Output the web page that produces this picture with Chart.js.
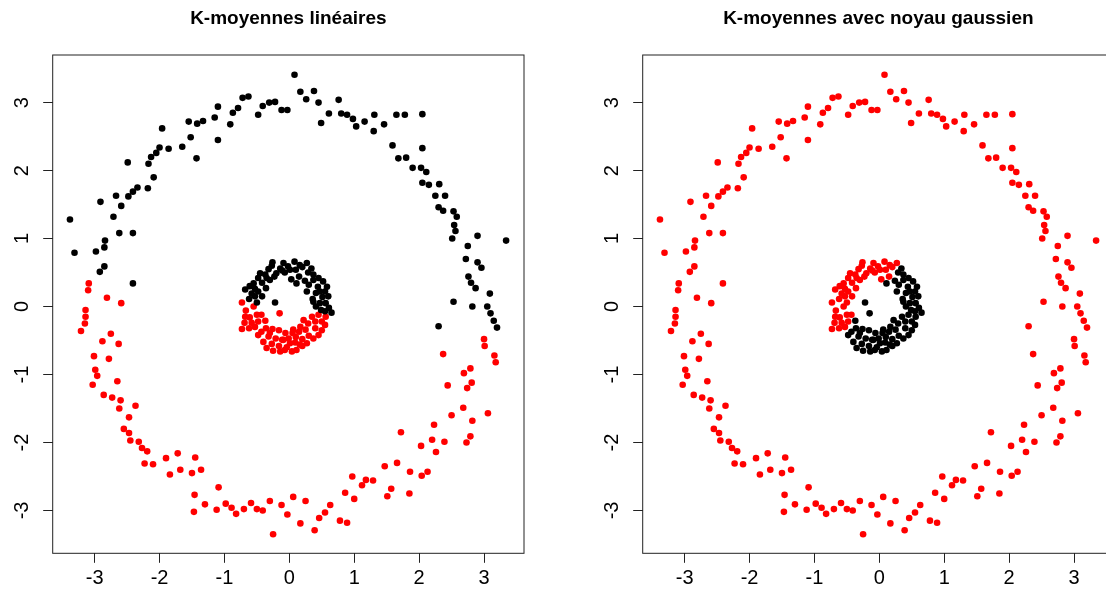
<!DOCTYPE html>
<html>
<head>
<meta charset="utf-8">
<script src="https://cdn.jsdelivr.net/npm/chart.js@4.4.1/dist/chart.umd.min.js"></script>
<style>
  html, body { margin: 0; padding: 0; background: #fff; overflow: hidden; width: 1106px; height: 589px; }
  .panel { position: absolute; top: 0; width: 590px; height: 589px; }
</style>
</head>
<body>
<div class="panel" style="left:0"><canvas id="linChart" width="590" height="589"></canvas></div>
<div class="panel" style="left:590px"><canvas id="kerChart" width="590" height="589"></canvas></div>
<script>
// axis ticks and limits
const tickValues = [-3, -2, -1, 0, 1, 2, 3];
const xRange = [-3.646, 3.616];
const yRange = [-3.63, 3.70];

// outer ring, upper part (black in the linear k-means)
const outerTop = [
  [-3.38,1.28],[-3.31,0.79],[-2.91,1.54],[-2.98,0.81],[-2.85,0.87],[-2.84,0.97],[-2.85,0.59],[-2.92,0.51],
  [-2.41,0.34],[-2.71,1.32],[-2.62,1.08],[-2.41,1.08],[-2.59,1.48],[-2.67,1.63],[-2.48,1.62],[-2.41,1.69],
  [-2.34,1.75],[-2.49,2.12],[-2.18,1.74],[-2.09,1.90],[-2.17,2.10],[-2.13,2.20],[-2.05,2.26],[-2.00,2.34],
  [-1.96,2.62],[-1.86,2.32],[-1.65,2.35],[-1.52,2.49],[-1.43,2.18],[-1.55,2.72],[-1.42,2.69],[-1.33,2.73],
  [-1.15,2.78],[-1.10,2.94],[-1.10,2.45],[-0.91,2.68],[-0.87,2.85],[-0.79,2.92],[-0.72,3.07],[-0.63,3.09],
  [-0.48,2.82],[-0.41,2.95],[-0.31,3.00],[-0.22,3.01],[-0.12,2.89],[-0.03,2.89],
  [0.08,3.41],[0.17,3.16],[0.26,3.05],[0.38,3.17],[0.45,3.00],[0.49,2.70],[0.61,2.84],[0.76,3.04],
  [0.80,2.84],[0.89,2.82],[0.98,2.76],[1.03,2.65],[1.16,2.72],[1.31,2.82],[1.30,2.58],[1.46,2.68],
  [1.65,2.82],[1.78,2.82],[2.05,2.83],[1.59,2.37],[2.05,2.33],[1.68,2.18],[1.80,2.19],[1.90,2.04],
  [2.03,2.04],[2.11,1.98],[2.05,1.82],[2.15,1.79],[2.31,1.80],[2.25,1.63],[2.40,1.63],[2.30,1.46],
  [2.37,1.41],[2.53,1.40],[2.58,1.32],[2.54,1.20],[2.56,1.11],[2.51,1.00],[2.90,1.04],[3.34,0.97],
  [2.75,0.89],[2.72,0.70],[2.90,0.65],[2.96,0.57],[2.76,0.44],[2.80,0.35],[2.87,0.27],[3.09,0.19],
  [2.53,0.07],[2.82,0.00],[3.05,0.00],[3.10,-0.10],[3.15,-0.21],[3.20,-0.31],[2.30,-0.29]
];

// outer ring, lower part (red in the linear k-means)
const outerBottom = [
  [-3.09,0.34],[-3.10,0.24],[-2.81,0.13],[-2.59,0.05],
  [-3.14,-0.05],[-3.14,-0.15],[-3.15,-0.25],[-3.21,-0.36],[-2.75,-0.40],[-2.88,-0.51],[-2.63,-0.55],[-3.01,-0.73],
  [-2.78,-0.77],[-2.99,-0.93],[-2.96,-1.02],[-3.03,-1.15],[-2.65,-1.10],[-2.86,-1.30],[-2.73,-1.34],[-2.60,-1.38],
  [-2.62,-1.50],[-2.37,-1.46],[-2.47,-1.63],[-2.55,-1.80],[-2.47,-1.86],[-2.45,-1.97],[-2.32,-1.99],[-2.27,-2.08],
  [-2.19,-2.13],[-2.23,-2.31],[-2.10,-2.32],[-1.90,-2.23],[-1.72,-2.16],[-1.84,-2.47],[-1.68,-2.40],[-1.45,-2.22],
  [-1.50,-2.45],[-1.36,-2.40],[-1.09,-2.66],[-1.46,-2.77],[-1.47,-3.02],[-1.30,-2.91],[-1.12,-2.99],[-0.98,-2.90],
  [-0.89,-2.96],[-0.82,-3.05],[-0.70,-2.98],[-0.59,-2.89],[-0.50,-2.98],[-0.41,-3.00],[-0.30,-2.86],[-0.12,-2.92],
  [-0.25,-3.35],
  [3.00,-0.48],[3.01,-0.58],[3.16,-0.72],[3.18,-0.82],[2.37,-0.70],[2.79,-0.91],[2.69,-0.98],[2.81,-1.12],
  [2.74,-1.20],[2.44,-1.16],[2.68,-1.49],[2.50,-1.60],[3.06,-1.57],[2.82,-1.68],[2.23,-1.74],[2.79,-1.91],
  [2.73,-2.00],[2.20,-1.96],[2.39,-1.99],[2.03,-2.05],[2.26,-2.14],[1.72,-1.85],[1.47,-2.35],[1.66,-2.30],
  [1.86,-2.43],[2.13,-2.43],[2.04,-2.49],[0.97,-2.50],[1.18,-2.55],[1.29,-2.56],[1.12,-2.63],[1.57,-2.68],
  [1.51,-2.79],[1.85,-2.75],[0.86,-2.74],[1.00,-2.83],[0.63,-2.92],[0.55,-3.03],[0.46,-3.11],[0.78,-3.15],
  [0.89,-3.18],[0.39,-3.29],[0.17,-3.19],[0.06,-2.80],[0.25,-2.86],[-0.03,-3.06]
];

// inner ring, split in four groups: linear cluster / kernel cluster
const innerBlackRed = [
  [-0.26,0.65],[0.08,0.66],[0.27,0.64],[-0.02,0.59],[-0.14,0.56],[-0.32,0.55],[-0.20,0.49],[-0.37,0.47],
  [-0.07,0.50],[0.10,0.54],[0.20,0.58],[0.15,0.44],[0.03,0.40],[-0.48,0.42],[-0.55,0.34],[-0.42,0.35],
  [-0.30,0.39],[-0.61,0.30],[-0.48,0.22],[-0.58,0.19],[-0.42,0.15],[-0.62,0.11],[-0.50,0.06],[-0.53,0.26],
  [-0.36,0.27],[-0.11,0.53],[-0.23,0.44],
  [-0.45,0.49],[-0.27,0.60],[-0.09,0.64],[0.16,0.61],[-0.68,0.25],[-0.35,0.42],[-0.53,0.15],[0.01,0.54]
];
const innerBlackBlack = [
  [0.29,0.50],[0.37,0.47],[0.24,0.38],[0.52,0.37],[0.30,0.32],[0.44,0.29],[0.27,0.22],[0.41,0.20],
  [0.51,0.14],[0.36,0.11],[0.56,0.05],[-0.22,0.06],[0.61,-0.02],[0.41,0.00],[0.65,-0.09],[0.49,-0.05],
  [0.11,0.34],[0.37,0.39],[0.47,0.22],[0.55,0.22],[0.37,0.07],
  [0.34,0.56],[0.45,0.42],[0.58,0.29],[0.60,0.15],[0.47,0.05],[0.55,-0.07]
];
const innerRedRed = [
  [-0.73,0.06],[-0.67,-0.06],[-0.55,0.00],[-0.61,-0.16],[-0.50,-0.12],[-0.69,-0.24],[-0.48,-0.22],[-0.73,-0.33],
  [-0.62,-0.32],[-0.53,-0.30],[-0.43,-0.12],[-0.68,-0.15],[-0.58,-0.24]
];
const innerRedBlack = [
  [-0.15,-0.10],[-0.37,-0.21],[0.22,-0.20],[0.35,-0.15],[0.45,-0.12],[0.56,-0.15],[0.29,-0.25],[0.50,-0.22],
  [-0.36,-0.32],[-0.26,-0.33],[-0.16,-0.35],[-0.06,-0.39],[0.05,-0.39],[0.15,-0.37],[0.25,-0.34],[0.40,-0.32],
  [0.50,-0.35],[-0.48,-0.42],[-0.32,-0.44],[-0.21,-0.47],[-0.11,-0.49],[-0.01,-0.47],[0.10,-0.45],[0.20,-0.48],
  [0.30,-0.43],[-0.40,-0.52],[-0.27,-0.55],[-0.16,-0.58],[-0.04,-0.60],[0.09,-0.53],[0.37,-0.47],[-0.25,-0.65],
  [-0.07,-0.64],[0.11,-0.64],[0.20,-0.58],[0.06,-0.34],[0.17,-0.30],
  [-0.43,-0.37],[-0.30,-0.39],[0.01,-0.54],[0.27,-0.54],[0.45,-0.42],[0.55,-0.27],[-0.35,-0.61],[-0.14,-0.66],
  [0.04,-0.66],[0.40,-0.22],[-0.09,-0.49],[0.16,-0.56]
];

const toPts = arr => arr.map(p => ({ x: p[0], y: p[1] }));

// plain box round the plotting region, like R's box()
const boxPlugin = {
  id: 'rbox',
  afterDraw(chart) {
    const { ctx, chartArea: a } = chart;
    ctx.save();
    ctx.strokeStyle = '#222';
    ctx.lineWidth = 1;
    ctx.strokeRect(a.left, a.top, a.right - a.left, a.bottom - a.top);
    ctx.restore();
  }
};

const tickFont = { family: "'Liberation Sans', Arial, sans-serif", size: 20 };
const gridOpts = { drawOnChartArea: false, drawTicks: true, tickLength: 9.5, tickColor: '#222', color: '#222' };

function makeChart(id, title, blackPts, redPts) {
  return new Chart(document.getElementById(id), {
    type: 'scatter',
    data: {
      datasets: [
        { data: toPts(blackPts), backgroundColor: '#000000', pointRadius: 3.3, pointBorderWidth: 0 },
        { data: toPts(redPts), backgroundColor: '#FF0000', pointRadius: 3.3, pointBorderWidth: 0 }
      ]
    },
    options: {
      responsive: false,
      devicePixelRatio: 1,
      animation: false,
      layout: { padding: { left: 0, right: 66, top: 0, bottom: 0 } },
      scales: {
        x: {
          type: 'linear',
          min: xRange[0],
          max: xRange[1],
          afterBuildTicks: s => { s.ticks = tickValues.map(v => ({ value: v })); },
          afterFit: s => { s.height = 35.7; },
          grid: gridOpts,
          border: { display: false },
          ticks: { font: tickFont, color: '#000', padding: 4, maxRotation: 0, autoSkip: false }
        },
        y: {
          type: 'linear',
          min: yRange[0],
          max: yRange[1],
          afterBuildTicks: s => { s.ticks = tickValues.map(v => ({ value: v })); },
          afterFit: s => { s.width = 52.7; },
          grid: gridOpts,
          border: { display: false },
          ticks: { font: tickFont, color: '#000', padding: 11.7, minRotation: 90, maxRotation: 90, crossAlign: 'center', autoSkip: false }
        }
      },
      plugins: {
        legend: { display: false },
        tooltip: { enabled: false },
        title: {
          display: true,
          text: title,
          fullSize: false,
          color: '#000',
          font: { family: "'Liberation Sans', Arial, sans-serif", size: 19, weight: 'bold' },
          padding: { top: 7, bottom: 25.2 }
        }
      }
    },
    plugins: [boxPlugin]
  });
}

makeChart('linChart', 'K-moyennes linéaires',
  outerTop.concat(innerBlackRed, innerBlackBlack),
  outerBottom.concat(innerRedRed, innerRedBlack));

makeChart('kerChart', 'K-moyennes avec noyau gaussien',
  innerBlackBlack.concat(innerRedBlack),
  outerTop.concat(outerBottom, innerBlackRed, innerRedRed));
</script>
</body>
</html>
